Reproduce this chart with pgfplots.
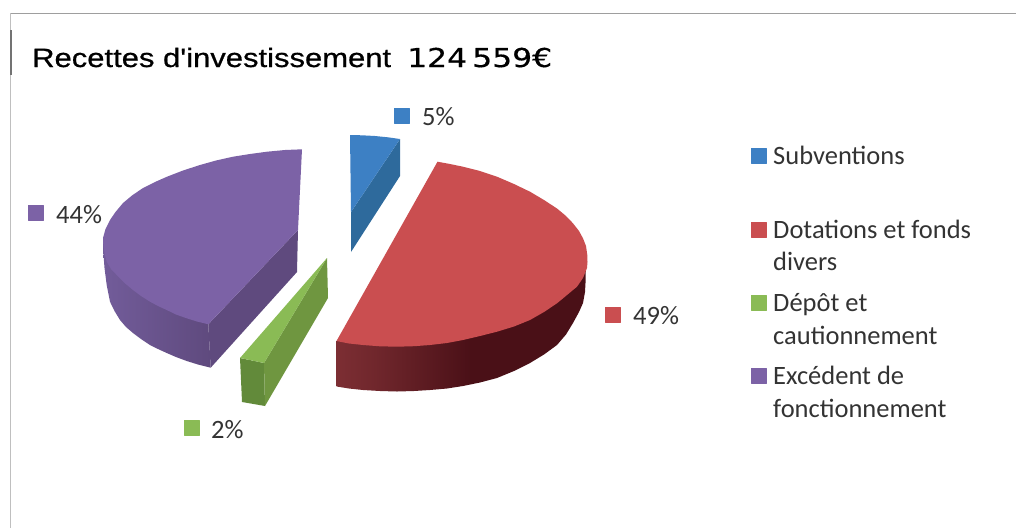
\documentclass[border=0pt]{standalone}
\usepackage{graphicx}
\usepackage{fontspec}
\setmainfont{Carlito}
\newfontfamily\titlefont[FakeBold=0.6]{Liberation Sans}
\newfontfamily\numfont[FakeBold=0.4]{DejaVu Sans}
\usepackage{pgfplots}
\pgfplotsset{compat=1.18}
\definecolor{bTop}{HTML}{3D80C4}
\definecolor{bSide}{HTML}{2E6A9C}
\definecolor{rTop}{HTML}{CA4E50}
\definecolor{rSideA}{HTML}{7C2E33}
\definecolor{rSideB}{HTML}{4A1017}
\definecolor{gTop}{HTML}{8ABB55}
\definecolor{gSide}{HTML}{6F9640}
\definecolor{gSideB}{HTML}{628A3A}
\definecolor{pTop}{HTML}{7C62A6}
\definecolor{pSideA}{HTML}{725C9A}
\definecolor{pSideB}{HTML}{5F4A7E}
\definecolor{txt}{HTML}{333333}
\pgfdeclarehorizontalshading{redside}{100bp}{color(0bp)=(rSideA); color(25bp)=(rSideA); color(33bp)=(rSideA!75!rSideB); color(52bp)=(rSideB); color(100bp)=(rSideB)}
\pgfdeclarehorizontalshading{purpleside}{100bp}{color(0bp)=(pSideA); color(25bp)=(pSideA); color(75bp)=(pSideB); color(100bp)=(pSideB)}
\begin{document}
\begin{tikzpicture}
\begin{axis}[
  scale only axis, width=1016pt, height=528pt,
  xmin=0, xmax=1016, ymin=0, ymax=528, y dir=reverse,
  hide axis, clip=true,
  every axis plot/.append style={line join=round},
]
\path (axis cs:0,0) rectangle (axis cs:1016,528);
% frame
\addplot[draw=black!38, line width=1.3pt] coordinates {(10,13.5) (1016,13.5)};
\addplot[draw=black!25, line width=1pt] coordinates {(10.5,13) (10.5,528)};
\addplot[draw=black!55, line width=1.6pt] coordinates {(11,30) (11,75)};
% purple side
\addplot[draw=none, shading=purpleside] coordinates {
 (103,240) (103.3,252) (104.5,268) (106.7,285) (110,301.7) (114.5,311) (120,320) (126,327) (133,333) (141,339) (150,345) (158,349) (166.7,353) (176,357) (186.7,361) (198,364.5) (210.7,367.7) (208.3,324.3) (103,240)};
\addplot[draw=none, fill=pSideB] coordinates {(208.3,324.3) (298,230) (297,272) (210.7,367.7) (208.3,324.3)};
% purple top
\addplot[draw=none, fill=pTop] coordinates {
 (302,149.3) (285,150) (267,151.7) (250,154) (233,156.7) (216,160.5) (200,165) (183,170.5) (167,176.7) (155,182) (143,188) (132,195.5) (123,203) (115.5,212) (110,220) (105.5,229) (103,238) (103.3,245) (104.5,253) (106.7,261.7) (111,269) (116.7,275) (124,282.5) (133,290) (141,296) (150,301.7) (158,306) (166.7,310) (176,314.5) (186.7,318.3) (197,321.5) (208.3,324.3)
 (298,230) (302,149.3)};
% green
\addplot[draw=none, fill=gSideB] coordinates {(240,358) (264,363) (265,406) (242,402) (240,358)};
\addplot[draw=none, fill=gSide] coordinates {(264,363) (327,258) (328,298) (265,406) (264,363)};
\addplot[draw=none, fill=gTop] coordinates {(240,358) (327,258) (264,363) (240,358)};
% blue
\addplot[draw=none, fill=bSide] coordinates {(400,139) (400,176) (351,252) (351,212) (400,139)};
\addplot[draw=none, fill=bTop] coordinates {(350,135) (362,135.3) (375,136) (388,137.3) (400,139) (351,212) (350,135)};
% red side
\addplot[draw=none, shading=redside] coordinates {
 (336.5,341) (336.5,386.5) (349,388.5) (363,390) (380,391) (397,391.5) (414,391) (430,390) (447,388.5) (463,386) (480,382.5) (497,378) (514,371) (530,363) (544,354.5) (557,345) (566,334.5) (573,323) (579,312) (583,303) (585,292) (585.5,283) (586,260) (336.5,341)};
% red top
\addplot[draw=none, fill=rTop] coordinates {
 (437.5,161.7) (450,164) (463,166.7) (480,171) (497,176.7) (514,184) (530,191.7) (544,200) (557,208.5) (566,216) (573,223.3) (579,231) (583,238.3) (586,246) (587.3,255) (587.5,262) (587,268) (583,278) (577,286.7) (567,295) (557,303.3) (544,312) (530,320) (514,326.5) (497,331.7) (480,336) (463,340) (447,343) (430,345) (414,346.2) (397,346.7) (380,346.3) (363,345) (349,343.5) (336.5,341) (437.5,161.7)};
% label and legend keys
\addplot[only marks, mark=square*, mark size=7.3pt, mark options={draw=bTop, fill=bTop}] coordinates {(401.5,115.5) (758.5,155.5)};
\addplot[only marks, mark=square*, mark size=7.3pt, mark options={draw=rTop, fill=rTop}] coordinates {(612.5,314.5) (758.5,229.5)};
\addplot[only marks, mark=square*, mark size=7.3pt, mark options={draw=gTop, fill=gTop}] coordinates {(191.5,427.5) (758.5,302.5)};
\addplot[only marks, mark=square*, mark size=7.3pt, mark options={draw=pTop, fill=pTop}] coordinates {(35.5,212.5) (758.5,375.5)};
\newcommand{\lab}[3]{\node[anchor=base west, inner sep=0pt, text=txt, font=\fontsize{26.5}{30}\selectfont] at (axis cs:#1,#2) {#3};}
\lab{422}{125.4}{5\%}
\lab{633}{324.4}{49\%}
\lab{211}{438.4}{2\%}
\lab{56}{223.4}{44\%}
\lab{773}{164}{Subventions}
\lab{773}{238}{Dotations et fonds}
\lab{773}{270}{divers}
\lab{773}{311}{Dépôt et}
\lab{773}{344}{cautionnement}
\lab{773}{384.5}{Excédent de}
\lab{773}{417.5}{fonctionnement}
\node[anchor=base west, inner sep=0pt, text=black, font=\titlefont\fontsize{26.5}{30}\selectfont] at (axis cs:32,67) {\resizebox{359pt}{\height}{Recettes d'investissement}};
\node[anchor=base west, inner sep=0pt, text=black, font=\numfont\fontsize{26}{30}\selectfont] at (axis cs:407,67) {\resizebox{145pt}{\height}{124\,559€}};
\end{axis}
\end{tikzpicture}
\end{document}
